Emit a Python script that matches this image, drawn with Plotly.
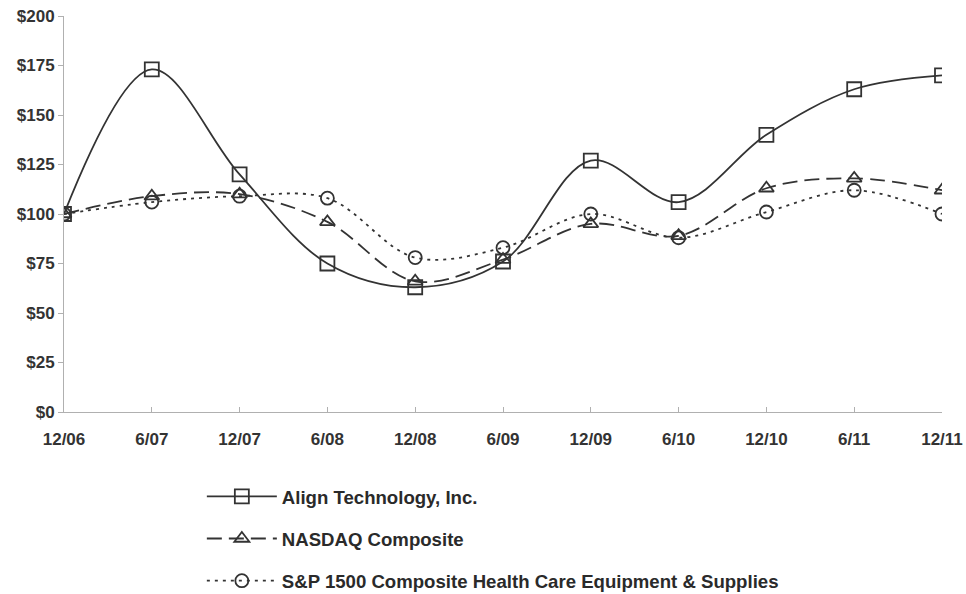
import plotly.graph_objects as go

periods = ["12/06", "6/07", "12/07", "6/08", "12/08", "6/09", "12/09", "6/10", "12/10", "6/11", "12/11"]
align = [100, 173, 120, 75, 63, 76, 127, 106, 140, 163, 170]
nasdaq = [100, 109, 110, 96, 66, 77, 95, 89, 113, 118, 112]
sp1500 = [100, 106, 109, 108, 78, 83, 100, 88, 101, 112, 100]
y_ticks = [0, 25, 50, 75, 100, 125, 150, 175, 200]
y_labels = ["$0", "$25", "$50", "$75", "$100", "$125", "$150", "$175", "$200"]

x = list(range(len(periods)))
col = "#333333"
fig = go.Figure()
series = [
    ("Align Technology, Inc.", align, "solid", "square-open", 14),
    ("NASDAQ Composite", nasdaq, "15px,7px", "triangle-up-open", 13),
    ("S&P 1500 Composite Health Care Equipment & Supplies", sp1500, "3px,5px", "circle-open", 13),
]
for i, (name, vals, dash, sym, ms) in enumerate(series):
    fig.add_trace(go.Scatter(
        x=x, y=vals, name=name, mode="lines+markers",
        line=dict(color=col, width=1.8, dash=dash, shape="spline", smoothing=1.0),
        marker=dict(symbol=sym, size=ms, color=col, line=dict(width=1.8, color=col)),
        legendgroup=str(i),
    ))

tickfont = dict(size=17, color="#333333", family="Arial, Liberation Sans, sans-serif", weight="bold")
fig.update_layout(
    width=966, height=594,
    margin=dict(l=64, r=24, t=16, b=182, autoexpand=False),
    plot_bgcolor="white", paper_bgcolor="white",
    font=dict(family="Arial, Liberation Sans, sans-serif", size=14, color="#333333"),
    showlegend=True,
    legend=dict(x=0.157, y=-0.166, xanchor="left", yanchor="top",
                tracegroupgap=15, itemwidth=70,
                font=dict(size=18.6, color="#2a2a2a", weight="bold"),
                bgcolor="rgba(0,0,0,0)"),
    xaxis=dict(
        range=[0, len(periods) - 1], tickmode="array", tickvals=x, ticktext=periods,
        showline=True, linecolor="#b0b0b0", linewidth=1, showgrid=False, zeroline=False,
        ticks="inside", ticklen=5, tickcolor="#b0b0b0", ticklabelstandoff=12,
        tickfont=tickfont, automargin=False,
    ),
    yaxis=dict(
        range=[0, 200], tickmode="array", tickvals=y_ticks, ticktext=y_labels,
        showline=True, linecolor="#b0b0b0", linewidth=1, showgrid=False, zeroline=False,
        ticks="outside", ticklen=5, tickcolor="#b0b0b0",
        tickfont=tickfont, automargin=False,
    ),
)
fig.write_html("out.html", config={"displayModeBar": False},
               post_script="document.body.style.margin='0px';")
